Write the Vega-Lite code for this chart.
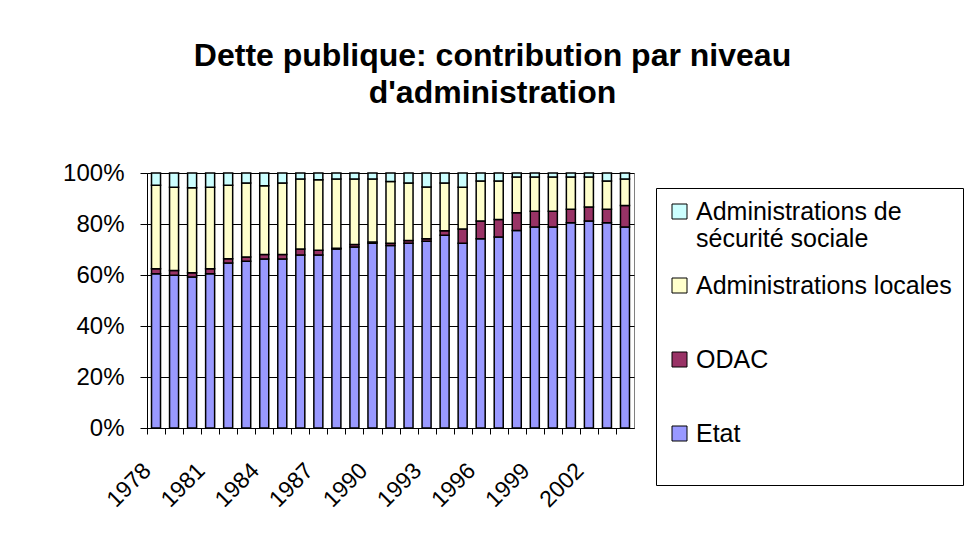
{
  "$schema": "https://vega.github.io/schema/vega-lite/v6.json",
  "width": 487,
  "height": 255,
  "autosize": "none",
  "padding": {"left": 147, "top": 173, "right": 330, "bottom": 110},
  "background": "white",
  "title": {
    "text": ["Dette publique: contribution par niveau", "d'administration"],
    "font": "Liberation Sans",
    "fontSize": 32,
    "fontWeight": "bold",
    "color": "black",
    "anchor": "middle",
    "frame": "group",
    "dx": 102,
    "offset": 51,
    "lineHeight": 37.5
  },
  "data": {
    "values": [
      {"annee": 1978, "niveau": "Etat", "rang": 1, "part": 60.5},
      {"annee": 1978, "niveau": "ODAC", "rang": 2, "part": 2.0},
      {"annee": 1978, "niveau": "Administrations locales", "rang": 3, "part": 32.7},
      {"annee": 1978, "niveau": "Administrations de sécurité sociale", "rang": 4, "part": 4.8},
      {"annee": 1979, "niveau": "Etat", "rang": 1, "part": 59.9},
      {"annee": 1979, "niveau": "ODAC", "rang": 2, "part": 1.9},
      {"annee": 1979, "niveau": "Administrations locales", "rang": 3, "part": 32.6},
      {"annee": 1979, "niveau": "Administrations de sécurité sociale", "rang": 4, "part": 5.6},
      {"annee": 1980, "niveau": "Etat", "rang": 1, "part": 59.2},
      {"annee": 1980, "niveau": "ODAC", "rang": 2, "part": 1.7},
      {"annee": 1980, "niveau": "Administrations locales", "rang": 3, "part": 33.3},
      {"annee": 1980, "niveau": "Administrations de sécurité sociale", "rang": 4, "part": 5.8},
      {"annee": 1981, "niveau": "Etat", "rang": 1, "part": 60.5},
      {"annee": 1981, "niveau": "ODAC", "rang": 2, "part": 2.0},
      {"annee": 1981, "niveau": "Administrations locales", "rang": 3, "part": 31.9},
      {"annee": 1981, "niveau": "Administrations de sécurité sociale", "rang": 4, "part": 5.6},
      {"annee": 1982, "niveau": "Etat", "rang": 1, "part": 64.7},
      {"annee": 1982, "niveau": "ODAC", "rang": 2, "part": 1.7},
      {"annee": 1982, "niveau": "Administrations locales", "rang": 3, "part": 28.8},
      {"annee": 1982, "niveau": "Administrations de sécurité sociale", "rang": 4, "part": 4.8},
      {"annee": 1983, "niveau": "Etat", "rang": 1, "part": 65.4},
      {"annee": 1983, "niveau": "ODAC", "rang": 2, "part": 1.7},
      {"annee": 1983, "niveau": "Administrations locales", "rang": 3, "part": 29.0},
      {"annee": 1983, "niveau": "Administrations de sécurité sociale", "rang": 4, "part": 3.9},
      {"annee": 1984, "niveau": "Etat", "rang": 1, "part": 66.3},
      {"annee": 1984, "niveau": "ODAC", "rang": 2, "part": 1.7},
      {"annee": 1984, "niveau": "Administrations locales", "rang": 3, "part": 27.0},
      {"annee": 1984, "niveau": "Administrations de sécurité sociale", "rang": 4, "part": 5.0},
      {"annee": 1985, "niveau": "Etat", "rang": 1, "part": 66.3},
      {"annee": 1985, "niveau": "ODAC", "rang": 2, "part": 1.7},
      {"annee": 1985, "niveau": "Administrations locales", "rang": 3, "part": 28.1},
      {"annee": 1985, "niveau": "Administrations de sécurité sociale", "rang": 4, "part": 3.9},
      {"annee": 1986, "niveau": "Etat", "rang": 1, "part": 67.8},
      {"annee": 1986, "niveau": "ODAC", "rang": 2, "part": 2.4},
      {"annee": 1986, "niveau": "Administrations locales", "rang": 3, "part": 27.4},
      {"annee": 1986, "niveau": "Administrations de sécurité sociale", "rang": 4, "part": 2.4},
      {"annee": 1987, "niveau": "Etat", "rang": 1, "part": 67.8},
      {"annee": 1987, "niveau": "ODAC", "rang": 2, "part": 1.9},
      {"annee": 1987, "niveau": "Administrations locales", "rang": 3, "part": 27.7},
      {"annee": 1987, "niveau": "Administrations de sécurité sociale", "rang": 4, "part": 2.6},
      {"annee": 1988, "niveau": "Etat", "rang": 1, "part": 70.2},
      {"annee": 1988, "niveau": "ODAC", "rang": 2, "part": 0.3},
      {"annee": 1988, "niveau": "Administrations locales", "rang": 3, "part": 27.1},
      {"annee": 1988, "niveau": "Administrations de sécurité sociale", "rang": 4, "part": 2.4},
      {"annee": 1989, "niveau": "Etat", "rang": 1, "part": 71.0},
      {"annee": 1989, "niveau": "ODAC", "rang": 2, "part": 1.0},
      {"annee": 1989, "niveau": "Administrations locales", "rang": 3, "part": 25.6},
      {"annee": 1989, "niveau": "Administrations de sécurité sociale", "rang": 4, "part": 2.4},
      {"annee": 1990, "niveau": "Etat", "rang": 1, "part": 72.5},
      {"annee": 1990, "niveau": "ODAC", "rang": 2, "part": 0.4},
      {"annee": 1990, "niveau": "Administrations locales", "rang": 3, "part": 24.7},
      {"annee": 1990, "niveau": "Administrations de sécurité sociale", "rang": 4, "part": 2.4},
      {"annee": 1991, "niveau": "Etat", "rang": 1, "part": 71.6},
      {"annee": 1991, "niveau": "ODAC", "rang": 2, "part": 0.9},
      {"annee": 1991, "niveau": "Administrations locales", "rang": 3, "part": 24.2},
      {"annee": 1991, "niveau": "Administrations de sécurité sociale", "rang": 4, "part": 3.3},
      {"annee": 1992, "niveau": "Etat", "rang": 1, "part": 72.5},
      {"annee": 1992, "niveau": "ODAC", "rang": 2, "part": 1.0},
      {"annee": 1992, "niveau": "Administrations locales", "rang": 3, "part": 22.6},
      {"annee": 1992, "niveau": "Administrations de sécurité sociale", "rang": 4, "part": 3.9},
      {"annee": 1993, "niveau": "Etat", "rang": 1, "part": 73.2},
      {"annee": 1993, "niveau": "ODAC", "rang": 2, "part": 1.0},
      {"annee": 1993, "niveau": "Administrations locales", "rang": 3, "part": 20.3},
      {"annee": 1993, "niveau": "Administrations de sécurité sociale", "rang": 4, "part": 5.5},
      {"annee": 1994, "niveau": "Etat", "rang": 1, "part": 75.6},
      {"annee": 1994, "niveau": "ODAC", "rang": 2, "part": 1.8},
      {"annee": 1994, "niveau": "Administrations locales", "rang": 3, "part": 18.7},
      {"annee": 1994, "niveau": "Administrations de sécurité sociale", "rang": 4, "part": 3.9},
      {"annee": 1995, "niveau": "Etat", "rang": 1, "part": 72.5},
      {"annee": 1995, "niveau": "ODAC", "rang": 2, "part": 5.5},
      {"annee": 1995, "niveau": "Administrations locales", "rang": 3, "part": 16.4},
      {"annee": 1995, "niveau": "Administrations de sécurité sociale", "rang": 4, "part": 5.6},
      {"annee": 1996, "niveau": "Etat", "rang": 1, "part": 74.2},
      {"annee": 1996, "niveau": "ODAC", "rang": 2, "part": 7.0},
      {"annee": 1996, "niveau": "Administrations locales", "rang": 3, "part": 15.7},
      {"annee": 1996, "niveau": "Administrations de sécurité sociale", "rang": 4, "part": 3.1},
      {"annee": 1997, "niveau": "Etat", "rang": 1, "part": 74.9},
      {"annee": 1997, "niveau": "ODAC", "rang": 2, "part": 6.9},
      {"annee": 1997, "niveau": "Administrations locales", "rang": 3, "part": 15.1},
      {"annee": 1997, "niveau": "Administrations de sécurité sociale", "rang": 4, "part": 3.1},
      {"annee": 1998, "niveau": "Etat", "rang": 1, "part": 77.5},
      {"annee": 1998, "niveau": "ODAC", "rang": 2, "part": 6.9},
      {"annee": 1998, "niveau": "Administrations locales", "rang": 3, "part": 14.0},
      {"annee": 1998, "niveau": "Administrations de sécurité sociale", "rang": 4, "part": 1.6},
      {"annee": 1999, "niveau": "Etat", "rang": 1, "part": 78.8},
      {"annee": 1999, "niveau": "ODAC", "rang": 2, "part": 6.2},
      {"annee": 1999, "niveau": "Administrations locales", "rang": 3, "part": 13.4},
      {"annee": 1999, "niveau": "Administrations de sécurité sociale", "rang": 4, "part": 1.6},
      {"annee": 2000, "niveau": "Etat", "rang": 1, "part": 78.8},
      {"annee": 2000, "niveau": "ODAC", "rang": 2, "part": 6.2},
      {"annee": 2000, "niveau": "Administrations locales", "rang": 3, "part": 13.4},
      {"annee": 2000, "niveau": "Administrations de sécurité sociale", "rang": 4, "part": 1.6},
      {"annee": 2001, "niveau": "Etat", "rang": 1, "part": 80.5},
      {"annee": 2001, "niveau": "ODAC", "rang": 2, "part": 5.3},
      {"annee": 2001, "niveau": "Administrations locales", "rang": 3, "part": 12.6},
      {"annee": 2001, "niveau": "Administrations de sécurité sociale", "rang": 4, "part": 1.6},
      {"annee": 2002, "niveau": "Etat", "rang": 1, "part": 81.2},
      {"annee": 2002, "niveau": "ODAC", "rang": 2, "part": 5.5},
      {"annee": 2002, "niveau": "Administrations locales", "rang": 3, "part": 11.7},
      {"annee": 2002, "niveau": "Administrations de sécurité sociale", "rang": 4, "part": 1.6},
      {"annee": 2003, "niveau": "Etat", "rang": 1, "part": 80.5},
      {"annee": 2003, "niveau": "ODAC", "rang": 2, "part": 5.3},
      {"annee": 2003, "niveau": "Administrations locales", "rang": 3, "part": 11.1},
      {"annee": 2003, "niveau": "Administrations de sécurité sociale", "rang": 4, "part": 3.1},
      {"annee": 2004, "niveau": "Etat", "rang": 1, "part": 78.8},
      {"annee": 2004, "niveau": "ODAC", "rang": 2, "part": 8.5},
      {"annee": 2004, "niveau": "Administrations locales", "rang": 3, "part": 10.3},
      {"annee": 2004, "niveau": "Administrations de sécurité sociale", "rang": 4, "part": 2.4}
    ]
  },
  "mark": {"type": "bar", "stroke": "black", "strokeWidth": 1.5},
  "encoding": {
    "x": {
      "field": "annee",
      "type": "ordinal",
      "scale": {"paddingInner": 0.5, "paddingOuter": 0.25},
      "axis": {
        "title": null,
        "labelFont": "Liberation Sans",
        "labelFontSize": 23,
        "labelColor": "black",
        "labelAngle": -45,
        "labelAlign": "right",
        "labelBaseline": "top",
        "labelPadding": 25,
        "labelOverlap": false,
        "labelBound": false,
        "tickOffset": -9,
        "labelOffset": -8,
        "tickSize": 6,
        "tickColor": "black",
        "domainColor": "black",
        "grid": false,
        "labelExpr": "(datum.value - 1978) % 3 == 0 ? datum.label : ''"
      }
    },
    "y": {
      "field": "part",
      "type": "quantitative",
      "stack": "normalize",
      "scale": {"domain": [0, 1]},
      "axis": {
        "title": null,
        "values": [0, 0.2, 0.4, 0.6, 0.8, 1],
        "format": ".0%",
        "labelFont": "Liberation Sans",
        "labelFontSize": 24,
        "labelColor": "black",
        "labelPadding": 16,
        "tickSize": 7,
        "tickColor": "black",
        "domainColor": "black",
        "grid": true,
        "gridColor": "black",
        "gridOpacity": 1
      }
    },
    "color": {
      "field": "niveau",
      "type": "nominal",
      "scale": {
        "domain": ["Administrations de sécurité sociale", "Administrations locales", "ODAC", "Etat"],
        "range": ["#CCFFFF", "#FFFFCC", "#993366", "#9999FF"]
      },
      "legend": {
        "title": null,
        "orient": "none",
        "legendX": 509,
        "legendY": 15,
        "padding": 11,
        "strokeColor": "black",
        "fillColor": "white",
        "symbolType": "square",
        "symbolSize": 225,
        "symbolStrokeColor": "black",
        "symbolStrokeWidth": 1,
        "symbolOpacity": 1,
        "labelFont": "Liberation Sans",
        "labelFontSize": 25,
        "labelColor": "black",
        "labelLimit": 400,
        "labelOffset": 4,
        "rowPadding": 21,
        "labelExpr": "datum.label == 'Administrations de sécurité sociale' ? ['Administrations de', 'sécurité sociale'] : [datum.label, '']"
      }
    },
    "order": {"field": "rang", "type": "quantitative"}
  },
  "config": {
    "view": {"stroke": "#808080", "strokeWidth": 1}
  }
}
